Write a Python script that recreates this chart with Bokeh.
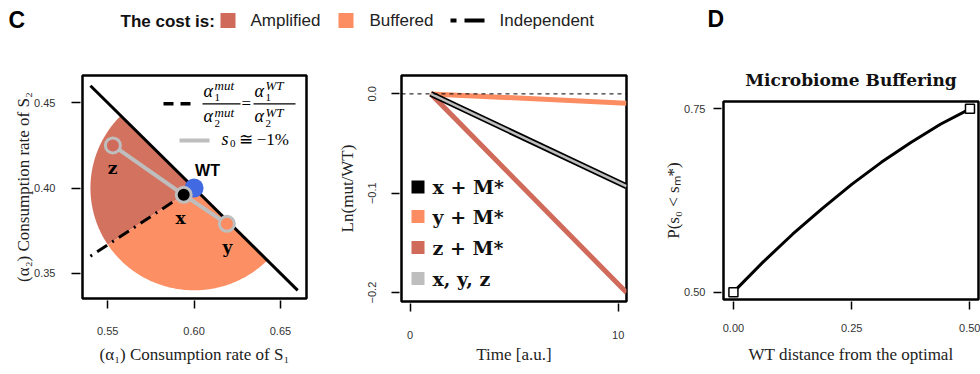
import numpy as np
from bokeh.plotting import figure
from bokeh.layouts import row, column
from bokeh.models import Range1d, Label, FixedTicker, Span
from bokeh.embed import file_html
from bokeh.resources import INLINE

# ---------------- data ----------------
# Panel C (left): consumption-rate plane
wt_a1 = [0.60]
wt_a2 = [0.40]
disk_radius = 0.06
front_a1 = [0.54, 0.66]          # alpha1 + alpha2 = 1 front
front_a2 = [0.46, 0.34]
indep_a1 = [0.54, 0.60]          # alpha1/alpha2 equal to the WT ratio
indep_a2 = [0.36, 0.40]
mut_names = ["z", "x", "y"]
mut_a1 = [0.553, 0.594, 0.619]
mut_a2 = [0.425, 0.396, 0.379]
c_xticks = [0.55, 0.60, 0.65]
c_xlabels = ["0.55", "0.60", "0.65"]
c_yticks = [0.35, 0.40, 0.45]
c_ylabels = ["0.35", "0.40", "0.45"]

# Panel C (right): log ratio over time
time = [1.0, 10.4]
ln_x = [0.0, -0.093]
ln_y = [0.0, -0.0095]
ln_z = [0.0, -0.200]
t_xticks = [0, 10]
t_xlabels = ["0", "10"]
t_yticks = [0.0, -0.1, -0.2]
t_ylabels = ["0.0", "\u22120.1", "\u22120.2"]
legend_labels = ["x + M*", "y + M*", "z + M*", "x, y, z"]

# Panel D
wt_dist = [0.0, 0.0625, 0.125, 0.1875, 0.25, 0.3125, 0.375, 0.4375, 0.5]
p_buffer = [0.500, 0.541, 0.579, 0.614, 0.647, 0.677, 0.704, 0.729, 0.750]
d_xticks = [0.0, 0.25, 0.5]
d_xlabels = ["0.00", "0.25", "0.50"]
d_yticks = [0.50, 0.75]
d_ylabels = ["0.50", "0.75"]

# ---------------- style ----------------
AMP = "#D06A5A"
AMP_FILL = "#D3725F"
BUF = "#FC8D62"
BUF_FILL = "#FC9064"
GRAY = "#BEBEBE"
BLUE = "#4169E1"
SERIF = "Liberation Serif"
SANS = "Liberation Sans"
SLAB = "DejaVu Serif"

TOP_H = 48
H = 326


def make_fig(width, xr, yr, mbl, mbr, mbt, mbb, **kw):
    p = figure(width=width, height=H, x_range=Range1d(*xr), y_range=Range1d(*yr),
               output_backend="svg", toolbar_location=None,
               min_border_left=mbl, min_border_right=mbr,
               min_border_top=mbt, min_border_bottom=mbb,
               background_fill_color="white", border_fill_color="white", **kw)
    p.frame_align = False
    p.xgrid.visible = False
    p.ygrid.visible = False
    p.outline_line_color = "black"
    p.outline_line_width = 2.5
    p.outline_line_alpha = 1.0
    for ax in (p.xaxis[0], p.yaxis[0]):
        ax.axis_line_color = None
        ax.minor_tick_line_color = None
        ax.major_tick_in = -2
        ax.major_tick_out = 10
        ax.major_tick_line_width = 1.5
        ax.major_tick_line_color = "black"
        ax.major_label_text_font = SANS
        ax.major_label_text_font_size = "11px"
        ax.major_label_text_color = "#333333"
        ax.axis_label_text_font = SERIF
        ax.axis_label_text_font_size = "17px"
        ax.axis_label_text_font_style = "normal"
        ax.axis_label_text_color = "#222222"
    return p


def set_ticks(ax, ticks, labels):
    ax.ticker = FixedTicker(ticks=ticks)
    ax.major_label_overrides = {t: l for t, l in zip(ticks, labels)}


def conv_factory(fx0, fx1, fy0, fy1, xr, yr):
    def conv(ix, iy):
        x = xr[0] + (ix - fx0) / (fx1 - fx0) * (xr[1] - xr[0])
        y = yr[1] - (iy - fy0) / (fy1 - fy0) * (yr[1] - yr[0])
        return x, y
    return conv


def lab(p, conv, ix, iy, text, size, font=SERIF, style="normal", align="left",
        color="black"):
    x, y = conv(ix, iy)
    p.add_layout(Label(x=x, y=y, text=text, text_font=font,
                       text_font_size=f"{size}px", text_font_style=style,
                       text_align=align, text_baseline="middle",
                       text_color=color))


# ---------------- top strip (panel letters + legend) ----------------
top = figure(width=980, height=TOP_H, x_range=Range1d(0, 980), y_range=Range1d(TOP_H, 0),
             output_backend="svg", toolbar_location=None,
             x_axis_location=None, y_axis_location=None, min_border=0,
             outline_line_color=None, background_fill_color="white",
             border_fill_color="white")
top.frame_align = False
top.grid.visible = False
ident = lambda ix, iy: (ix, iy)
lab(top, ident, 8, 19, "C", 23, SANS, "bold")
lab(top, ident, 707, 18.5, "D", 23, SANS, "bold")
lab(top, ident, 120, 21, "The cost is:", 17, SANS, "bold", color="#111111")
top.scatter(x=[227.5], y=[20], marker="square", size=15, fill_color=AMP, line_color=None)
lab(top, ident, 250, 20, "Amplified", 17, SANS, color="#222222")
top.scatter(x=[345.5], y=[20], marker="square", size=15, fill_color=BUF, line_color=None)
lab(top, ident, 369, 20, "Buffered", 17, SANS, color="#222222")
top.line(x=[450, 484], y=[20, 20], line_color="black", line_width=4,
         line_dash="6 8 20 8")
lab(top, ident, 499, 20, "Independent", 17, SANS, color="#222222")

# ---------------- panel C left ----------------
A_XR = (0.5354, 0.6651)
A_YR = (0.3352, 0.4660)
pa = make_fig(333, A_XR, A_YR, 82, 27, 75 - TOP_H, H - (298 - TOP_H))
set_ticks(pa.xaxis[0], c_xticks, c_xlabels)
set_ticks(pa.yaxis[0], c_yticks, c_ylabels)
pa.xaxis[0].major_label_standoff = 18
pa.xaxis[0].axis_label_standoff = 7
pa.yaxis[0].major_tick_out = 11
pa.yaxis[0].major_label_standoff = 16
pa.yaxis[0].axis_label_standoff = -2
pa.xaxis[0].axis_label = "(\u03b1\u2081) Consumption rate of S\u2081"
pa.yaxis[0].axis_label = "(\u03b1\u2082) Consumption rate of S\u2082"
ca = conv_factory(82, 306, 75, 298, A_XR, A_YR)

cx, cy = wt_a1[0], wt_a2[0]
ang_front = np.arctan2(front_a2[0] - cy, front_a1[0] - cx) % (2 * np.pi)
ang_indep = np.arctan2(indep_a2[0] - cy, indep_a1[0] - cx) % (2 * np.pi)
ang_front2 = np.arctan2(front_a2[1] - cy, front_a1[1] - cx) % (2 * np.pi)


def sector(a0, a1):
    th = np.linspace(a0, a1, 120)
    xs = np.concatenate([[cx], cx + disk_radius * np.cos(th)])
    ys = np.concatenate([[cy], cy + disk_radius * np.sin(th)])
    return list(xs), list(ys)


amp_x, amp_y = sector(ang_front, ang_indep)
buf_x, buf_y = sector(ang_indep, ang_front2)
pa.patch(amp_x, amp_y, fill_color=AMP_FILL, line_color=None)
pa.patch(buf_x, buf_y, fill_color=BUF_FILL, line_color=None)
pa.line(front_a1, front_a2, line_color="black", line_width=3)
pa.line(indep_a1, indep_a2, line_color="black", line_width=3, line_dash="2 6 12 6")
pa.line(mut_a1, mut_a2, line_color=GRAY, line_width=4)
pa.scatter(wt_a1, wt_a2, size=19, fill_color=BLUE, line_color=None)
mut_colors = [AMP, "black", BUF]
pa.scatter(mut_a1, mut_a2, size=15, fill_color=mut_colors, line_color=GRAY, line_width=3)

# point labels
lab(pa, ca, 112, 167, "z", 17, SLAB, "bold", "center")
lab(pa, ca, 180, 217, "x", 17, SLAB, "bold", "center")
lab(pa, ca, 227, 246, "y", 17, SLAB, "bold", "center")
lab(pa, ca, 207, 170, "WT", 16, SANS, "bold", "center")

# in-panel legend (math)
bar_y = 103.3
x0, y0 = ca(163, bar_y)
x1, _ = ca(192, bar_y)
pa.line([x0, x1], [y0, y0], line_color="black", line_width=3.5, line_dash="10 7")


def frac(ix, sup, width):
    lab(pa, ca, ix, bar_y - 12.5, "\u03b1", 18, SERIF, "italic")
    lab(pa, ca, ix + 11, bar_y - 18, sup, 13, SERIF, "italic")
    lab(pa, ca, ix + 11, bar_y - 6, "1", 11, SERIF)
    lab(pa, ca, ix, bar_y + 12.5, "\u03b1", 18, SERIF, "italic")
    lab(pa, ca, ix + 11, bar_y + 8.5, sup, 13, SERIF, "italic")
    lab(pa, ca, ix + 11, bar_y + 20, "2", 11, SERIF)
    bx0, by = ca(ix - 1, bar_y)
    bx1, _ = ca(ix + width, bar_y)
    pa.line([bx0, bx1], [by, by], line_color="black", line_width=1.2)


frac(203, "mut", 37)
lab(pa, ca, 241, bar_y, "=", 17, SERIF)
frac(254, "WT", 41)

gx0, gy = ca(179, 140)
gx1, _ = ca(209, 140)
pa.line([gx0, gx1], [gy, gy], line_color=GRAY, line_width=4)
lab(pa, ca, 221, 138.5, "s", 18, SERIF, "italic")
lab(pa, ca, 229.5, 143, "0", 11, SERIF)
lab(pa, ca, 238, 139, "\u2245 \u22121%", 17, SERIF)

# ---------------- panel C right ----------------
B_XR = (-0.41, 10.4)
B_YR = (-0.209, 0.0185)
pb = make_fig(328, B_XR, B_YR, 401 - 333, 661 - 626, 75 - TOP_H, H - (301 - TOP_H))
set_ticks(pb.xaxis[0], t_xticks, t_xlabels)
set_ticks(pb.yaxis[0], t_yticks, t_ylabels)
pb.xaxis[0].major_label_standoff = 19
pb.xaxis[0].axis_label_standoff = 3
pb.yaxis[0].major_label_standoff = 15
pb.yaxis[0].axis_label_standoff = 9
pb.yaxis[0].major_label_orientation = "vertical"
pb.xaxis[0].axis_label = "Time [a.u.]"
pb.yaxis[0].axis_label = "Ln(mut/WT)"
cb = conv_factory(401, 626, 75, 301, B_XR, B_YR)

pb.add_layout(Span(location=0, dimension="width", line_color="black",
                   line_width=1, line_dash="4 4"))
pb.line(time, ln_y, line_color=BUF, line_width=5)
pb.line(time, ln_z, line_color=AMP, line_width=5)
pb.line(time, ln_x, line_color="black", line_width=6)
pb.line(time, ln_x, line_color=GRAY, line_width=2.5)

leg_colors = ["black", BUF, AMP, GRAY]
leg_rows = [186.5, 216, 247, 278]
for name, col, ry in zip(legend_labels, leg_colors, leg_rows):
    sx, sy = cb(417.5, ry)
    pb.scatter([sx], [sy], marker="square", size=13, fill_color=col, line_color=None)
    lab(pb, cb, 432, ry, name, 19, SLAB, "bold", color="#111111")

# ---------------- panel D ----------------
D_XR = (-0.021, 0.518)
D_YR = (0.490, 0.760)
pd = make_fig(319, D_XR, D_YR, 723 - 661, 2, 101 - TOP_H, H - (299 - TOP_H),
              title="Microbiome Buffering")
set_ticks(pd.xaxis[0], d_xticks, d_xlabels)
set_ticks(pd.yaxis[0], d_yticks, d_ylabels)
pd.xaxis[0].major_label_standoff = 14
pd.xaxis[0].axis_label_standoff = 10
pd.yaxis[0].major_label_standoff = 8
pd.yaxis[0].axis_label_standoff = -2
pd.xaxis[0].axis_label = "WT distance from the optimal"
pd.yaxis[0].axis_label = "P(s\u2080 < s\u2098*)"
pd.title.align = "center"
pd.title.text_font = SLAB
pd.title.text_font_size = "17px"
pd.title.text_font_style = "bold"
pd.title.text_color = "#111111"
pd.title.standoff = 23

pd.line(wt_dist, p_buffer, line_color="black", line_width=3)
pd.scatter([wt_dist[0], wt_dist[-1]], [p_buffer[0], p_buffer[-1]], marker="square",
           size=9, fill_color="white", line_color="black", line_width=1.5)

layout = column(top, row(pa, pb, pd, spacing=0), spacing=0)

open("out.html", "w").write(file_html(layout, INLINE))
